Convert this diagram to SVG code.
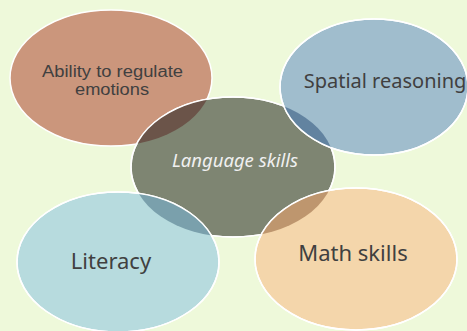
<svg xmlns="http://www.w3.org/2000/svg" width="467" height="331" viewBox="0 0 467 331">
<style>
.e{stroke:#ffffff;stroke-width:1.5}
.t{font-family:"Noto Sans","Open Sans",sans-serif;fill:#404040;text-anchor:middle}
.s{font-family:"Liberation Sans",Arial,sans-serif}
</style>
<defs>
<clipPath id="cLang"><ellipse cx="233" cy="167" rx="102" ry="70"/></clipPath>
</defs>
<rect width="467" height="331" fill="#eef9da"/>
<g id="ability">
<ellipse class="e" cx="111" cy="78" rx="101" ry="68" fill="#cb967c"/>
</g>
<g id="language">
<ellipse class="e" cx="233" cy="167" rx="102" ry="70" fill="#7e8572"/>
<ellipse cx="111" cy="78" rx="101" ry="68" fill="#6b5449" clip-path="url(#cLang)"/>
<ellipse cx="233" cy="167" rx="102" ry="70" fill="none" stroke="#ffffff" stroke-width="1.5"/>
</g>
<g id="spatial">
<ellipse class="e" cx="374" cy="87" rx="94" ry="68" fill="#a0bdcd"/>
<ellipse cx="374" cy="87" rx="94" ry="68" fill="#6283a0" clip-path="url(#cLang)"/>
<ellipse cx="374" cy="87" rx="94" ry="68" fill="none" stroke="#ffffff" stroke-width="1.5"/>
</g>
<g id="literacy">
<ellipse class="e" cx="118" cy="262" rx="101" ry="70" fill="#b7dbde"/>
<ellipse cx="118" cy="262" rx="101" ry="70" fill="#7aa0ac" clip-path="url(#cLang)"/>
<ellipse cx="118" cy="262" rx="101" ry="70" fill="none" stroke="#ffffff" stroke-width="1.5"/>
</g>
<g id="math">
<ellipse class="e" cx="356" cy="259" rx="101" ry="71" fill="#f4d6ab"/>
<ellipse cx="356" cy="259" rx="101" ry="71" fill="#be966e" clip-path="url(#cLang)"/>
<ellipse cx="356" cy="259" rx="101" ry="71" fill="none" stroke="#ffffff" stroke-width="1.5"/>
</g>
<g id="labels">
<text class="t s" x="112.5" y="76.5" font-size="16" textLength="141" lengthAdjust="spacingAndGlyphs">Ability to regulate</text>
<text class="t s" x="112" y="95" font-size="16" textLength="74" lengthAdjust="spacingAndGlyphs">emotions</text>
<text class="t" x="385" y="88" font-size="20">Spatial reasoning</text>
<text class="t" x="235" y="167" font-size="18.5" font-style="italic" style="fill:#f0f0f0">Language skills</text>
<text class="t" x="111" y="269" font-size="22">Literacy</text>
<text class="t" x="353" y="261" font-size="22">Math skills</text>
</g>
</svg>
